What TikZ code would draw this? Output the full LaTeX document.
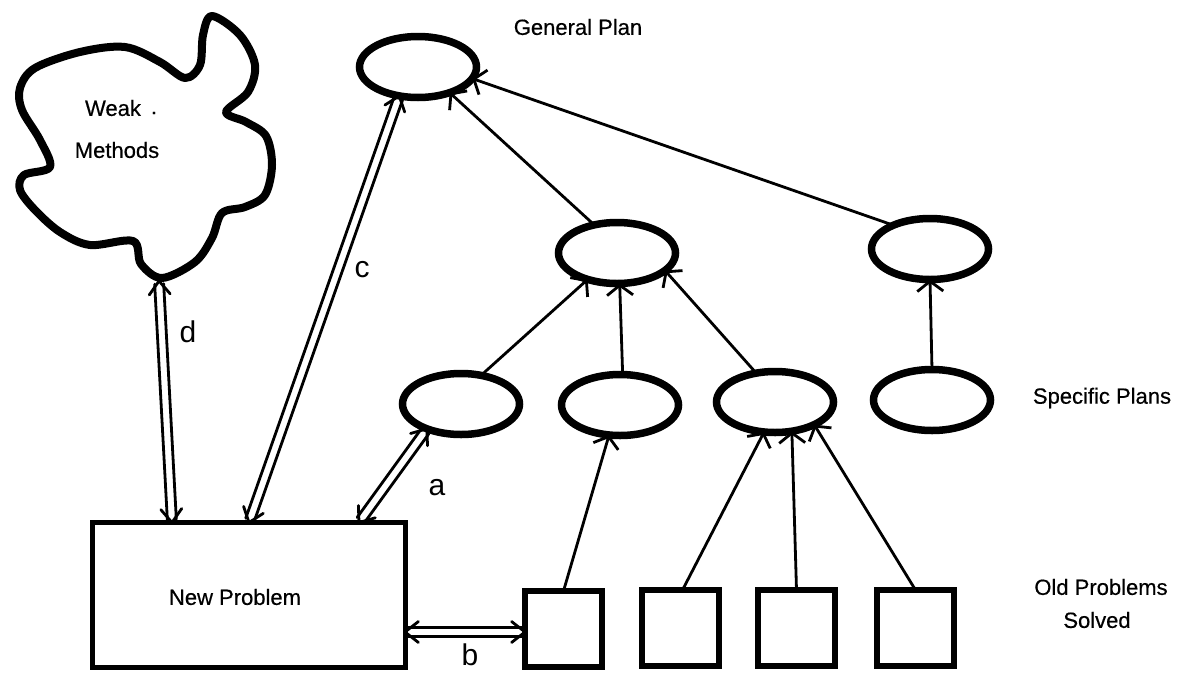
\documentclass[tikz,border=0pt]{standalone}
\usepackage{fontspec}
\setmainfont{Liberation Sans}
\newfontfamily\scanfont{Liberation Sans}[FakeBold=0.5]
\usetikzlibrary{arrows.meta,calc,shapes.geometric}
\newcommand\twoway[2]{%
  \draw[dline,shorten <=3pt,shorten >=3pt] ($(#1)!4.5pt!90:(#2)$) -- ($(#2)!4.5pt!-90:(#1)$);
  \draw[dline,shorten <=3pt,shorten >=3pt] ($(#1)!4.5pt!-90:(#2)$) -- ($(#2)!4.5pt!90:(#1)$);
  \draw[dline] ($(#1)!17pt!38:(#2)$) -- (#1) -- ($(#1)!17pt!-38:(#2)$);
  \draw[dline] ($(#2)!17pt!38:(#1)$) -- (#2) -- ($(#2)!17pt!-38:(#1)$);
}
\begin{document}
\begin{tikzpicture}[x=1pt,y=-1pt,
  plan/.style={draw, ellipse, line width=7.5pt, minimum width=117pt, minimum height=61pt, inner sep=0pt, outer sep=0pt},
  oldp/.style={draw, rectangle, line width=6.5pt, minimum width=77pt, minimum height=76pt, inner sep=0pt, outer sep=0pt},
  link/.style={line width=2.8pt, -{Straight Barb[length=10pt,width=26pt]}},
  dline/.style={line width=2.8pt, line cap=round, line join=round},
  lbl/.style={font=\scanfont\fontsize{22}{26}\selectfont, inner sep=0pt},
  tag/.style={font=\fontsize{30}{34}\selectfont, inner sep=0pt}]
\useasboundingbox (0,0) rectangle (1186,672);

% cloud (weak methods)
\draw[line width=8pt, line join=round] plot[smooth cycle, tension=0.55] coordinates {
  (212,16) (240,35) (255,65) (248,92) (226,112) (246,122) (266,136) (272,165)
  (265,195) (245,207) (222,213) (212,238) (195,262) (162,278) (141,264) (133,241)
  (90,245) (60,232) (35,210) (20,190) (24,175) (50,167) (40,140) (22,110)
  (20,88) (35,68) (80,52) (125,47) (160,62) (185,78) (200,65) (203,35)};
\node[lbl] (weak) at (113,108) {Weak};
\node[lbl] (dot) at (154,113) {.};
\node[lbl] (meth) at (117,150) {Methods};
\coordinate (wm) at (159,281);

% plans
\node[plan] (gp) at (418,67) {};
\node[plan] (m1) at (617,253) {};
\node[plan] (m2) at (930,249) {};
\node[plan] (s1) at (461,404) {};
\node[plan] (s2) at (620,405) {};
\node[plan] (s3) at (775,402) {};
\node[plan] (s4) at (932,400) {};

% problems
\node[draw, rectangle, line width=5pt, minimum width=313pt, minimum height=145pt, inner sep=0pt, outer sep=0pt] (np) at (248.5,595) {};
\node[lbl] (npt) at (235,597) {New Problem};
\node[oldp] (o1) at (563.5,629) {};
\node[oldp] (o2) at (680.5,628) {};
\node[oldp] (o3) at (796.5,628) {};
\node[oldp] (o4) at (915.5,628) {};

% texts
\node[lbl] (tgp) at (578,27) {General Plan};
\node[lbl] (tsp) at (1102,398) {Specific Plans};
\node[lbl] (top) at (1101,587) {Old Problems};
\node[lbl] (tso) at (1097,620) {Solved};

% single links
\draw[link] (m1.129) -- (gp.321);
\draw[link] (m2.147) -- (gp.348);
\draw[link] (s1.55) -- (m1.222);
\draw[link] (s2.85) -- (m1.275);
\draw[link] (s3.123) -- (m1.340);
\draw[link] (s4.north) -- (m2.south);
\draw[link] (o1.north) -- (s2.250);
\draw[link] ([xshift=2pt]o2.north) -- (s3.250);
\draw[link] (o3.north) -- (s3.300);
\draw[link] (o4.north) -- (s3.330);

% double links
\coordinate (nd) at ([xshift=80pt]np.north west);
\coordinate (nc) at ([xshift=157pt]np.north west);
\coordinate (na) at ([xshift=267pt]np.north west);
\coordinate (nb) at ([yshift=-37pt]np.east);
\coordinate (ob) at ([yshift=-3pt]o1.west);
\coordinate (gc) at (gp.237);
\coordinate (sa) at (s1.216);
\twoway{wm}{nd}
\twoway{gc}{nc}
\twoway{sa}{na}
\twoway{nb}{ob}

\node[tag] (ld) at (188,332) {d};
\node[tag] (lc) at (362,270) {c};
\node[tag] (la) at (437,488) {a};
\node[tag] (lb) at (470,655) {b};
\end{tikzpicture}
\end{document}
